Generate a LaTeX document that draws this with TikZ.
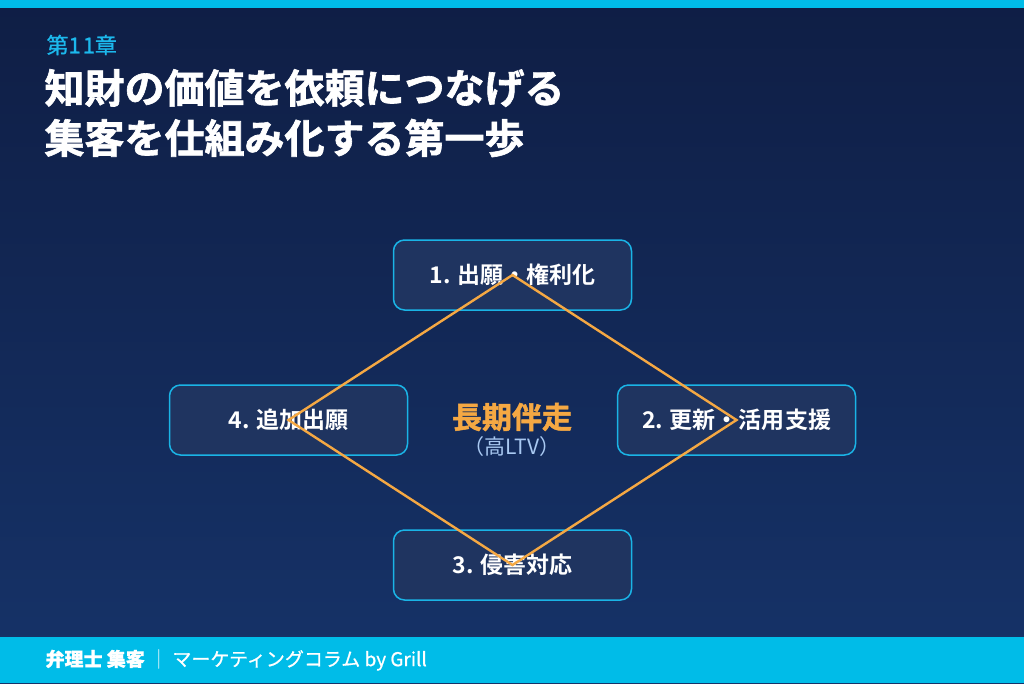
\documentclass[tikz,border=0pt]{standalone}
\usepackage{fontspec}
\setmainfont{Noto Sans CJK JP}[BoldFont={Noto Sans CJK JP Bold}]
\newfontfamily\heavyfont{Noto Sans CJK JP Bold}[FakeBold=1.6]
\newfontfamily\midfont{Noto Sans CJK JP}[FakeBold=0.8]
\definecolor{bgtop}{HTML}{0F1E45}
\definecolor{bgbot}{HTML}{163369}
\definecolor{cyanbar}{HTML}{00BCE8}
\definecolor{boxfill}{HTML}{1F3460}
\definecolor{boxline}{HTML}{1AB4E6}
\definecolor{orange}{HTML}{F5A843}
\definecolor{subtxt}{HTML}{A9C9F2}
\definecolor{chap}{HTML}{1CB8EC}
\tikzset{
  stepbox/.style={draw=boxline, line width=1.5pt, fill=boxfill, rounded corners=11pt,
    minimum width=238pt, minimum height=70pt, text=white, font=\fontsize{23}{26}\selectfont\bfseries},
  cyclepath/.style={draw=orange, line width=2.4pt, line join=miter},
  titletext/.style={anchor=west, text=white, font=\fontsize{40}{46}\selectfont\heavyfont}
}
\begin{document}
\begin{tikzpicture}[x=1pt,y=-1pt]
\useasboundingbox (0,0) rectangle (1024,683);
\shade[top color=bgtop, bottom color=bgbot] (0,0) rectangle (1024,683);
\fill[cyanbar] (0,0) rectangle (1024,8);
\fill[cyanbar] (0,637) rectangle (1024,683);
\node[anchor=west, text=chap, font=\fontsize{22}{26}\selectfont\midfont] (chapter) at (43,45) {第1\kern2pt 1章};
\node[titletext] (t1) at (41,88) {知財の価値を依頼につなげる};
\node[titletext] (t2) at (41,138) {集客を仕組み化する第一歩};
\node[stepbox] (b1) at (512.5,275) {1. 出願・権利化};
\node[stepbox] (b2) at (736.5,420) {2. 更新・活用支援};
\node[stepbox] (b3) at (512.5,565) {3. 侵害対応};
\node[stepbox] (b4) at (288.5,420) {4. 追加出願};
\node[text=orange, font=\fontsize{30}{34}\selectfont\heavyfont] (center) at (512,417) {長期伴走};
\node[text=subtxt, font=\fontsize{21}{24}\selectfont] (sub) at (512,447) {（高LTV）};
\draw[cyclepath] (b1.center) -- (b2.center) -- (b3.center) -- (b4.center) -- cycle;
\node[anchor=west, text=white, font=\fontsize{19}{22}\selectfont\midfont] (footer) at (42,660) {{\bfseries 弁理士 集客} \textcolor{white!60!cyanbar}{｜} マーケティングコラム by Grill};
\end{tikzpicture}
\end{document}
